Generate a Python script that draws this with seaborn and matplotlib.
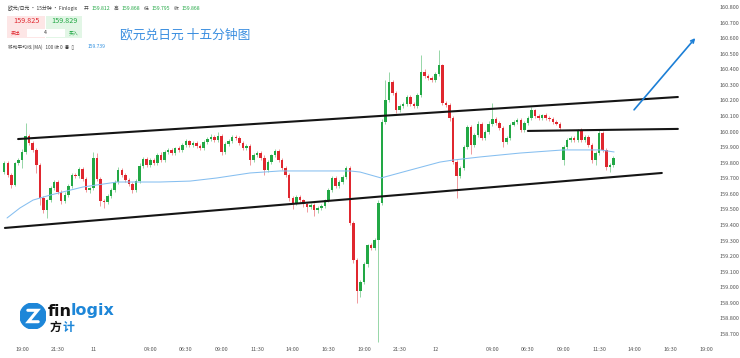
import numpy as np
import pandas as pd
import matplotlib
matplotlib.use("Agg")
import matplotlib.pyplot as plt
from matplotlib.patches import Circle, Rectangle
import seaborn as sns

# 15-minute EUR/JPY candles, day 10 17:45 -> day 12 12:30
opens = [159.740, 159.798, 159.721, 159.657, 159.798, 159.817, 159.869, 159.972, 159.927, 159.882,
         159.785, 159.573, 159.496, 159.560, 159.637, 159.676, 159.612, 159.554, 159.592, 159.650,
         159.721, 159.715, 159.760, 159.695, 159.625, 159.637, 159.830, 159.695, 159.554, 159.548,
         159.586, 159.625, 159.676, 159.753, 159.721, 159.689, 159.663, 159.625, 159.682, 159.779,
         159.824, 159.785, 159.817, 159.798, 159.849, 159.817, 159.869, 159.882, 159.862, 159.894,
         159.882, 159.914, 159.939, 159.914, 159.927, 159.907, 159.894, 159.933, 159.952, 159.965,
         159.946, 159.972, 159.869, 159.920, 159.939, 159.965, 159.959, 159.927, 159.894, 159.907,
         159.817, 159.849, 159.862, 159.830, 159.753, 159.804, 159.849, 159.875, 159.817, 159.766,
         159.721, 159.573, 159.541, 159.580, 159.560, 159.535, 159.515, 159.528, 159.496, 159.509,
         159.522, 159.560, 159.625, 159.702, 159.650, 159.676, 159.708, 159.766, 159.413, 159.175,
         158.976, 159.034, 159.149, 159.271, 159.252, 159.303, 159.541, 160.062, 160.203, 160.318,
         160.248, 160.138, 160.164, 160.177, 160.222, 160.177, 160.164, 160.235, 160.383, 160.357,
         160.344, 160.331, 160.370, 160.427, 160.183, 160.171, 160.087, 159.804, 159.715, 159.766,
         159.901, 160.029, 159.914, 159.978, 160.049, 159.959, 159.997, 160.049, 160.081, 160.055,
         160.023, 159.933, 159.959, 160.043, 160.062, 160.074, 160.010, 160.055, 160.087, 160.138,
         160.100, 160.087, 160.106, 160.087, 160.081, 160.062, 160.049, 159.817, 159.901, 159.946,
         159.959, 159.946, 160.004, 159.946, 159.965, 159.914, 159.817, 159.862, 159.991, 159.882,
         159.772, 159.785]
closes = [159.798, 159.721, 159.657, 159.798, 159.817, 159.869, 159.972, 159.927, 159.882, 159.785,
          159.573, 159.496, 159.560, 159.637, 159.676, 159.612, 159.554, 159.592, 159.650, 159.721,
          159.715, 159.760, 159.695, 159.625, 159.637, 159.830, 159.695, 159.554, 159.548, 159.586,
          159.625, 159.676, 159.753, 159.721, 159.689, 159.663, 159.625, 159.682, 159.779, 159.824,
          159.785, 159.817, 159.798, 159.849, 159.817, 159.869, 159.882, 159.862, 159.894, 159.882,
          159.914, 159.939, 159.914, 159.927, 159.907, 159.894, 159.933, 159.952, 159.965, 159.946,
          159.972, 159.869, 159.920, 159.939, 159.965, 159.959, 159.927, 159.894, 159.907, 159.817,
          159.849, 159.862, 159.830, 159.753, 159.804, 159.849, 159.875, 159.817, 159.766, 159.721,
          159.573, 159.541, 159.580, 159.560, 159.535, 159.515, 159.528, 159.496, 159.509, 159.522,
          159.560, 159.625, 159.702, 159.650, 159.676, 159.708, 159.766, 159.413, 159.175, 158.976,
          159.034, 159.149, 159.271, 159.252, 159.303, 159.541, 160.062, 160.203, 160.318, 160.248,
          160.138, 160.164, 160.177, 160.222, 160.177, 160.164, 160.235, 160.383, 160.357, 160.344,
          160.331, 160.370, 160.427, 160.183, 160.171, 160.087, 159.804, 159.715, 159.766, 159.901,
          160.029, 159.914, 159.978, 160.049, 159.959, 159.997, 160.049, 160.081, 160.055, 160.023,
          159.933, 159.959, 160.043, 160.062, 160.074, 160.010, 160.055, 160.087, 160.138, 160.100,
          160.087, 160.106, 160.087, 160.081, 160.062, 160.049, 160.023, 159.901, 159.946, 159.959,
          159.946, 160.004, 159.946, 159.965, 159.914, 159.817, 159.862, 159.991, 159.882, 159.772,
          159.785, 159.830]
upper_wick = [.015, .010, .012, .008, .010, .020, .080, .015, .010, .012,
              .010, .015, .010, .012, .015, .010, .012, .020, .015, .010,
              .015, .012, .010, .015, .010, .040, .030, .010, .015, .012,
              .010, .015, .020, .015, .010, .012, .010, .015, .020, .015,
              .012, .010, .015, .012, .020, .010, .015, .012, .010, .015,
              .012, .015, .010, .012, .015, .010, .012, .015, .020, .010,
              .025, .010, .012, .015, .010, .012, .010, .015, .010, .012,
              .015, .010, .012, .020, .015, .010, .012, .010, .015, .010,
              .012, .010, .015, .012, .010, .015, .012, .010, .015, .012,
              .010, .015, .012, .010, .015, .012, .015, .010, .015, .010,
              .015, .012, .010, .015, .012, .020, .020, .130, .065, .015,
              .010, .015, .012, .010, .015, .012, .015, .110, .020, .015,
              .012, .015, .097, .010, .015, .012, .010, .015, .012, .010,
              .015, .012, .010, .020, .015, .012, .020, .100, .015, .010,
              .012, .015, .010, .012, .015, .010, .012, .015, .020, .010,
              .012, .010, .015, .012, .010, .015, .012, .015, .010, .012,
              .015, .010, .020, .012, .015, .010, .012, .020, .015, .010,
              .012, .015]
lower_wick = [.012, .010, .020, .008, .010, .050, .010, .015, .012, .050,
              .045, .020, .050, .012, .015, .010, .020, .015, .012, .010,
              .015, .012, .010, .015, .020, .010, .015, .030, .040, .012,
              .010, .015, .012, .010, .015, .012, .020, .015, .010, .012,
              .015, .012, .010, .015, .012, .010, .015, .012, .010, .015,
              .012, .010, .015, .012, .010, .015, .012, .010, .015, .012,
              .010, .020, .015, .012, .010, .015, .012, .010, .015, .030,
              .012, .010, .015, .030, .012, .010, .015, .012, .010, .015,
              .020, .040, .015, .012, .020, .030, .015, .040, .020, .015,
              .012, .010, .015, .012, .010, .015, .012, .015, .020, .077,
              .040, .015, .020, .012, .015, .655, .015, .012, .010, .015,
              .020, .015, .012, .010, .015, .012, .010, .015, .012, .010,
              .015, .012, .010, .015, .012, .020, .015, .141, .015, .012,
              .010, .060, .015, .012, .015, .012, .010, .015, .012, .010,
              .030, .015, .012, .010, .015, .012, .010, .015, .012, .010,
              .015, .012, .010, .015, .012, .010, .015, .030, .012, .010,
              .015, .012, .010, .015, .012, .020, .030, .012, .015, .020,
              .030, .012]

# MA(100) line, read at a few candle positions
ma_idx = [0.8, 4.4, 8.1, 12.9, 22.1, 31.7, 43.7, 52.2, 59.7, 69.0, 77.4, 88.6,
          97.1, 99.9, 105.8, 114.0, 122.3, 126.0, 133.6, 144.8, 156.9, 167.3, 171.2]
ma_val = [159.445, 159.509, 159.560, 159.592, 159.644, 159.676, 159.676, 159.682,
          159.702, 159.734, 159.747, 159.747, 159.747, 159.740, 159.702, 159.753,
          159.804, 159.817, 159.837, 159.862, 159.882, 159.882, 159.869]

# hand-drawn channel lines: (start idx, start price, end idx, end price)
upper_channel = (3.9, 159.952, 189.1, 160.222)
lower_channel = (0.2, 159.381, 184.6, 159.734)
resist_line = (147.0, 160.004, 189.1, 160.017)
arrow_line = (176.3, 160.126, 194.5, 160.614)

start_time = "2024-01-10 17:45"
tick_times = ["2024-01-10 19:00", "2024-01-10 21:30", "2024-01-11 00:00", "2024-01-11 04:00",
              "2024-01-11 06:30", "2024-01-11 09:00", "2024-01-11 11:30", "2024-01-11 14:00",
              "2024-01-11 16:30", "2024-01-11 19:00", "2024-01-11 21:30", "2024-01-12 00:00",
              "2024-01-12 04:00", "2024-01-12 06:30", "2024-01-12 09:00", "2024-01-12 11:30",
              "2024-01-12 14:00", "2024-01-12 16:30", "2024-01-12 19:00"]
tick_labels = ["19:00", "21:30", "11", "04:00", "06:30", "09:00", "11:30", "14:00", "16:30",
               "19:00", "21:30", "12", "04:00", "06:30", "09:00", "11:30", "14:00", "16:30", "19:00"]

sns.set_theme(style="white")
plt.rcParams['font.family'] = ['Noto Sans CJK SC', 'DejaVu Sans']

GREEN = "#22a845"
RED = "#e0272f"

df = pd.DataFrame({"open": opens, "close": closes})
df["high"] = df[["open", "close"]].max(axis=1) + np.array(upper_wick)
df["low"] = df[["open", "close"]].min(axis=1) - np.array(lower_wick)
df["x"] = np.arange(len(df))
colors = np.where(df["close"] >= df["open"], GREEN, RED)

t0 = pd.Timestamp(start_time)
tick_pos = [(pd.Timestamp(t) - t0) / pd.Timedelta("15min") for t in tick_times]

W, H = 740, 358
fig = plt.figure(figsize=(W / 100, H / 100), dpi=100)
ax = fig.add_axes([0, 15 / H, 708 / W, 343 / H])

ax.vlines(df["x"], df["low"], df["high"], colors=colors, lw=0.6, alpha=0.55)
body = (df["close"] - df["open"]).abs().clip(lower=0.004)
ax.bar(df["x"], body, bottom=df[["open", "close"]].min(axis=1), width=0.7,
       color=colors, linewidth=0)

sns.lineplot(x=ma_idx, y=ma_val, ax=ax, color="#86bff0", lw=0.75)

for x0, y0, x1, y1 in [upper_channel, lower_channel, resist_line]:
    ax.plot([x0, x1], [y0, y1], color="#151515", lw=1.5, solid_capstyle="round")
ax.annotate("", xy=(arrow_line[2], arrow_line[3]), xytext=(arrow_line[0], arrow_line[1]),
            arrowprops=dict(arrowstyle="->", color="#1c7fd6", lw=1.2, mutation_scale=6))

ax.set_xlim(-1.18, 197.56)
ax.set_ylim(158.642, 160.845)
ax.yaxis.tick_right()
yt = np.round(np.arange(158.7, 160.85, 0.1), 1)
ax.set_yticks(yt)
ax.set_yticklabels([f"{v:.3f}" for v in yt])
ax.set_xticks(tick_pos)
ax.set_xticklabels(tick_labels)
ax.tick_params(axis="y", length=0, pad=8, labelsize=4, labelcolor="#555555")
ax.tick_params(axis="x", length=0, pad=3, labelsize=4, labelcolor="#555555")
for s in ax.spines.values():
    s.set_visible(False)
ax.grid(False)


def fx(x):
    return x / W


def fy(y):
    return 1 - y / H


# header
fig.text(fx(8), fy(8), "欧元/日元 · 15分钟 · Finlogix", fontsize=3.5, color="#333333", va="center")
hx = 84
for lab, val in [("开", "159.812"), ("高", "159.868"), ("低", "159.795"), ("收", "159.868")]:
    fig.text(fx(hx), fy(8), lab, fontsize=3.4, color="#444444", va="center")
    fig.text(fx(hx + 8), fy(8), val, fontsize=3.7, color=GREEN, va="center")
    hx += 30

fig.add_artist(Rectangle((fx(7), fy(38)), 38 / W, 22 / H, transform=fig.transFigure,
                         facecolor="#fde6e6", edgecolor="none"))
fig.add_artist(Rectangle((fx(46), fy(38)), 36 / W, 22 / H, transform=fig.transFigure,
                         facecolor="#e2f6e6", edgecolor="none"))
fig.add_artist(Rectangle((fx(27), fy(37)), 38 / W, 8 / H, transform=fig.transFigure,
                         facecolor="white", edgecolor="none"))
fig.text(fx(26), fy(21), "159.825", fontsize=5.2, color=RED, ha="center", va="center")
fig.text(fx(64), fy(21), "159.829", fontsize=5.2, color=GREEN, ha="center", va="center")
fig.text(fx(16), fy(33), "卖出", fontsize=3.5, color=RED, ha="center", va="center")
fig.text(fx(45), fy(33), "4", fontsize=3.6, color="#333333", ha="center", va="center")
fig.text(fx(74), fy(33), "买入", fontsize=3.5, color=GREEN, ha="center", va="center")
fig.text(fx(8), fy(47), "移动平均线 (MA)   100 收 0  ◉  ▯", fontsize=3.4, color="#444444", va="center")
fig.text(fx(88), fy(47), "159.739", fontsize=3.6, color="#2f8fe0", va="center")

fig.text(fx(120), fy(35), "欧元兑日元 十五分钟图", fontsize=9.2, color="#3a8ee0", va="center")

# logo
lax = fig.add_axes([fx(20), fy(329), 26 / W, 26 / H])
lax.set_xlim(0, 1)
lax.set_ylim(0, 1)
lax.set_aspect("equal")
lax.axis("off")
lax.add_patch(Circle((0.5, 0.5), 0.5, color="#1d86d8"))
lax.plot([0.3, 0.68, 0.32, 0.7], [0.72, 0.72, 0.28, 0.28], color="white", lw=2.2,
         solid_joinstyle="miter")
fig.text(fx(48), fy(311), "fin", fontsize=11.5, fontweight="bold", color="#111111",
         va="center", family="DejaVu Sans")
fig.text(fx(71), fy(311), "logix", fontsize=11.5, fontweight="bold", color="#1d86d8",
         va="center", family="DejaVu Sans")
fig.text(fx(50), fy(327), "方", fontsize=8.5, fontweight="bold", color="#111111", va="center")
fig.text(fx(63), fy(327), "计", fontsize=8.5, fontweight="bold", color="#1d86d8", va="center")

fig.savefig("out.png", dpi=100)
